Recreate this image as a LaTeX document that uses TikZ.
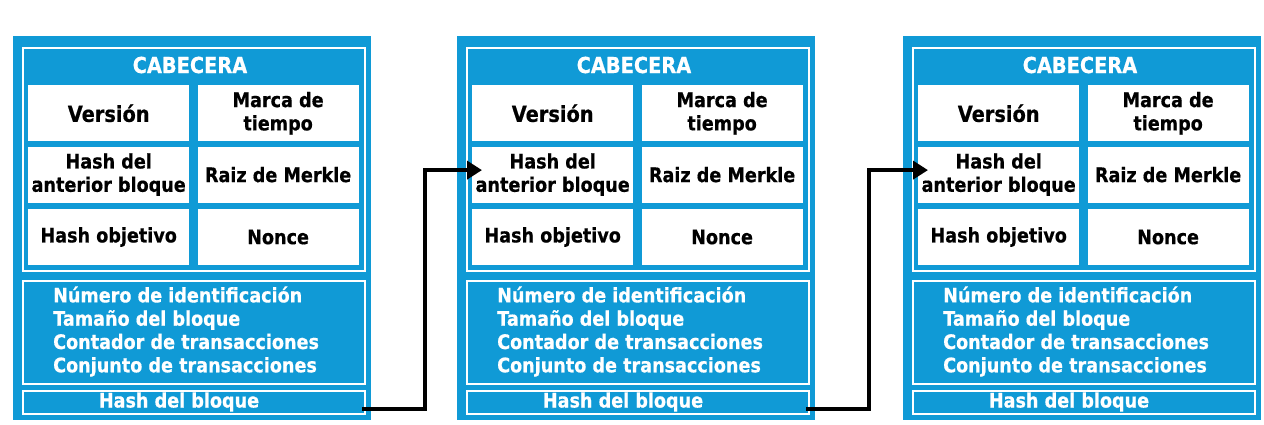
\documentclass[tikz,border=0pt]{standalone}
\usepackage{xcolor}
\usepackage{fontspec}
\setmainfont{DejaVu Sans}[FakeStretch=0.88, BoldFeatures={FakeBold=0.6}]
\usepackage{tikz}
\usetikzlibrary{arrows.meta, positioning, calc}

\definecolor{azulbloque}{RGB}{16,154,214}

\begin{document}
\begin{tikzpicture}[
      x=1pt, y=-1pt,
      font=\fontsize{20}{23.3}\selectfont\bfseries,
      bloque/.style={rectangle, fill=azulbloque, draw=none, inner sep=0pt,
        minimum width=358pt, minimum height=384pt},
      marco/.style={rectangle, draw=white, line width=2pt, inner sep=0pt,
        minimum width=342pt},
      celda/.style={rectangle, fill=white, draw=none, inner sep=0pt, align=center,
        text=black, minimum width=161pt, minimum height=56pt},
      rotulo/.style={text=white, inner sep=0pt},
      grande/.style={font=\fontsize{22}{24}\selectfont\bfseries},
      enlace/.style={-{Triangle[length=15pt, width=18pt]}, line width=4pt, draw=black}
    ]
      \useasboundingbox (0,0) rectangle (1264,424);
      % tres bloques de la cadena
      \foreach \i/\x in {1/13, 2/457, 3/903}{
        \begin{scope}[xshift=\x pt]
          \node[bloque, anchor=north west] (b\i) at (0,36) {};
          \node[marco, anchor=north west, minimum height=223pt] (cab\i) at (9,47) {};
          \node[rotulo, grande] (tit\i) at (177,65) {CABECERA};
          \node[celda, grande, anchor=north west] (ver\i) at (15,85) {Versión};
          \node[celda, right=8pt of ver\i] (mar\i) {Marca de\\tiempo};
          \node[celda, below=5pt of ver\i] (ant\i) {Hash del\\anterior bloque};
          \node[celda, below=5pt of mar\i] (raiz\i) {Raiz de Merkle};
          \node[celda, below=6pt of ant\i] (obj\i) {Hash objetivo};
          \node[celda, below=6pt of raiz\i] (nonce\i) {Nonce};
          \node[marco, anchor=north west, minimum height=103pt] (cuerpo\i) at (9,280) {};
          \node[rotulo, align=left, anchor=west] (datos\i) at (40,331.5)
            {Número de identificación\\Tamaño del bloque\\Contador de transacciones\\Conjunto de transacciones};
          \node[marco, anchor=north west, minimum height=23pt] (hash\i) at (9,390) {};
          \node[rotulo] (txthash\i) at (166,402) {Hash del bloque};
        \end{scope}
      }
      % enlaces entre bloques
      \draw[enlace] ([xshift=-4pt, yshift=-6.5pt]hash1.east) -- ++(63,0)
        |- ([xshift=10pt, yshift=4.5pt]ant2.west);
      \draw[enlace] ([xshift=-4pt, yshift=-6.5pt]hash2.east) -- ++(63,0)
        |- ([xshift=10pt, yshift=4.5pt]ant3.west);
    \end{tikzpicture}
\end{document}
